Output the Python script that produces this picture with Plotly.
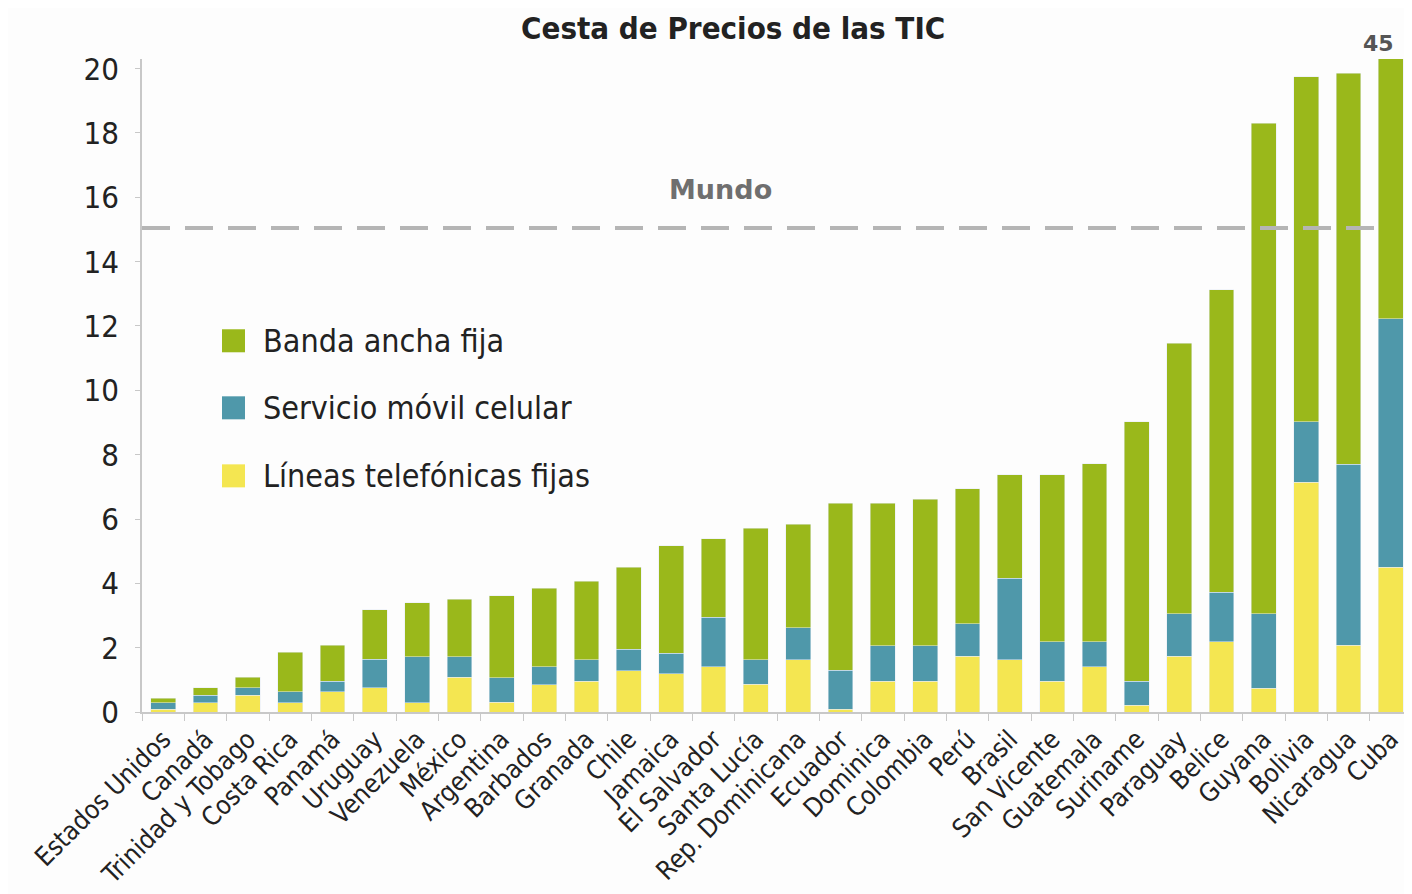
import plotly.graph_objects as go

countries = ["Estados Unidos", "Canadá", "Trinidad y Tobago", "Costa Rica", "Panamá",
             "Uruguay", "Venezuela", "México", "Argentina", "Barbados", "Granada", "Chile",
             "Jamaica", "El Salvador", "Santa Lucía", "Rep. Dominicana", "Ecuador", "Dominica",
             "Colombia", "Perú", "Brasil", "San Vicente", "Guatemala", "Suriname", "Paraguay",
             "Belice", "Guyana", "Bolivia", "Nicaragua", "Cuba"]

# Líneas telefónicas fijas (bottom segment)
fijas = [0.08, 0.29, 0.52, 0.29, 0.63, 0.75, 0.29, 1.08, 0.30, 0.84, 0.96, 1.29,
         1.19, 1.40, 0.86, 1.62, 0.08, 0.96, 0.96, 1.74, 1.63, 0.96, 1.40, 0.21,
         1.74, 2.18, 0.74, 7.15, 2.08, 4.50]
# Servicio móvil celular (middle segment)
movil = [0.21, 0.23, 0.23, 0.34, 0.33, 0.89, 1.43, 0.64, 0.77, 0.56, 0.67, 0.66,
         0.64, 1.54, 0.76, 1.00, 1.22, 1.10, 1.10, 1.00, 2.53, 1.23, 0.79, 0.74,
         1.31, 1.54, 2.31, 1.88, 5.62, 7.72]
# Banda ancha fija (top segment)
banda = [0.14, 0.24, 0.33, 1.23, 1.11, 1.54, 1.68, 1.78, 2.55, 2.45, 2.44, 2.55,
         3.34, 2.45, 4.09, 3.22, 5.19, 4.43, 4.56, 4.20, 3.21, 5.18, 5.52, 8.08,
         8.42, 9.40, 15.25, 10.72, 12.16, 32.78]

mundo = 15.05
cuba_total = "45"
y_max = 20.3

c_green = "#9ab81b"
c_teal = "#4f98aa"
c_yellow = "#f4e651"

narrow = "DejaVu Sans Condensed, Liberation Sans Narrow, Arial Narrow, sans-serif"

fig = go.Figure()
fig.add_bar(x=countries, y=fijas, name="Líneas telefónicas fijas", marker_color=c_yellow)
fig.add_bar(x=countries, y=movil, name="Servicio móvil celular", marker_color=c_teal)
fig.add_bar(x=countries, y=banda, name="Banda ancha fija", marker_color=c_green)

# page body adds an 8px offset; layout values below are in figure pixels
FW, FH = 1404, 886
L, T, W, H = 134, 51.4, 1270, 652.6

fig.update_layout(
    width=FW, height=FH,
    barmode="stack", bargap=0.41,
    showlegend=False,
    paper_bgcolor="#fdfdfd", plot_bgcolor="#fdfdfd",
    margin=dict(l=L, r=FW - L - W, t=T, b=FH - T - H, autoexpand=False),
    font=dict(family=narrow, color="#222222"),
)
fig.update_xaxes(
    range=[-0.5, 29.5], showline=True, linecolor="#c8c8c8", linewidth=1.5,
    ticks="outside", tickson="boundaries", ticklen=7, tickcolor="#c8c8c8",
    tickangle=-45, tickfont=dict(size=26, family=narrow, color="#222"),
    showgrid=False,
)
fig.update_yaxes(
    range=[0, y_max], tickvals=list(range(0, 21, 2)), showline=True,
    linecolor="#c8c8c8", linewidth=1.5, ticks="outside", ticklen=5, tickcolor="#c8c8c8",
    ticklabelstandoff=10,
    tickfont=dict(size=31, family=narrow, color="#222"), showgrid=False, zeroline=False,
)

# World reference line
fig.add_shape(type="line", xref="x", yref="y", x0=-0.5, x1=28.8, y0=mundo, y1=mundo,
              line=dict(color="#b5b5b5", width=4, dash="28px,15px"))
fig.add_annotation(x=(720 - 8 - L) / W, xref="paper", y=mundo, yref="y", yshift=38,
                   yanchor="middle", text="<b>Mundo</b>", showarrow=False,
                   font=dict(family="DejaVu Sans", size=27, color="#6f6f6f"))

# Title (anchored at the top edge of the figure)
fig.add_annotation(x=(733 - 8 - L) / W, xref="paper", y=1 + T / H, yref="paper",
                   yanchor="top", text="<b>Cesta de Precios de las TIC</b>", showarrow=False,
                   font=dict(family=narrow, size=31, color="#222"))

# Cuba total label
fig.add_annotation(x=29, xref="x", y=y_max, yref="y", yshift=16, xshift=-12,
                   yanchor="middle", text="<b>" + cuba_total + "</b>", showarrow=False,
                   font=dict(family="DejaVu Sans", size=22, color="#555"))

# Manual legend
legend_items = [("Banda ancha fija", c_green, 341),
                ("Servicio móvil celular", c_teal, 408),
                ("Líneas telefónicas fijas", c_yellow, 476)]
for label, col, py in legend_items:
    yc = (T + H - (py - 8)) / H
    fig.add_shape(type="rect", xref="paper", yref="paper",
                  x0=(222 - 8 - L) / W, x1=(245 - 8 - L) / W,
                  y0=yc - 11.5 / H, y1=yc + 11.5 / H,
                  fillcolor=col, line=dict(width=0))
    fig.add_annotation(x=(261 - 8 - L) / W, xref="paper", y=yc, yref="paper",
                       xanchor="left", yanchor="middle", text=label, showarrow=False,
                       font=dict(family=narrow, size=32, color="#222"))

fig.write_html("out.html")
